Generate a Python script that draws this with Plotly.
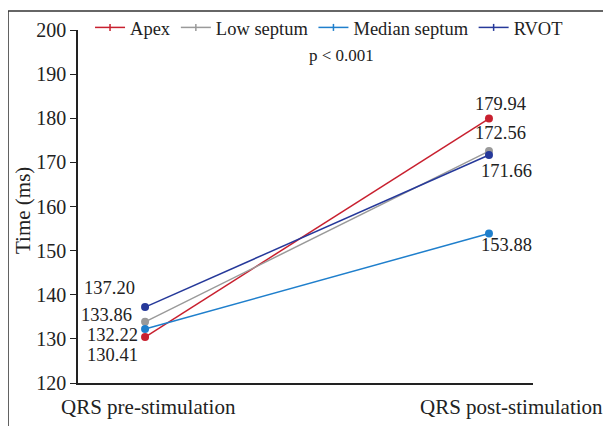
import plotly.graph_objects as go

categories = ["QRS pre-stimulation", "QRS post-stimulation"]
series_names = ["Apex", "Low septum", "Median septum", "RVOT"]
apex = [130.41, 179.94]
low_septum = [133.86, 172.56]
median_septum = [132.22, 153.88]
rvot = [137.20, 171.66]
colors = ["#c8202f", "#9a9a9a", "#1f7fcc", "#26399a"]
y_ticks = [120, 130, 140, 150, 160, 170, 180, 190, 200]

values = [apex, low_septum, median_septum, rvot]
xpos = [0, 1]
FONT = "Liberation Serif"
TXT = "#222"

fig = go.Figure()
for name, vals, col in zip(series_names, values, colors):
    fig.add_trace(go.Scatter(
        x=xpos, y=vals, name=name, mode="lines+markers", showlegend=False,
        line=dict(color=col, width=1.5),
        marker=dict(color=col, size=8),
    ))
# legend entries (small markers like the reference)
for name, col in zip(series_names, colors):
    fig.add_trace(go.Scatter(
        x=[None], y=[None], name=name, mode="lines+markers",
        line=dict(color=col, width=1.5),
        marker=dict(color=col, size=5, symbol="line-ns-open", line=dict(color=col, width=1.5)),
    ))

# data labels (offsets in px: text centre relative to point)
pre_offsets = {"Apex": (-33, -18), "Low septum": (-39, 7), "Median septum": (-33, -6), "RVOT": (-36, 19)}
post_offsets = {"Apex": (12, 15), "Low septum": (12, 18), "Median septum": (18, -11), "RVOT": (18, -16)}
ann = []
for name, vals in zip(series_names, values):
    dx, dy = pre_offsets[name]
    ann.append(dict(x=0, y=vals[0], text=f"{vals[0]:.2f}", showarrow=False,
                    xshift=dx, yshift=dy, font=dict(family=FONT, size=18.5, color=TXT)))
    dx, dy = post_offsets[name]
    ann.append(dict(x=1, y=vals[1], text=f"{vals[1]:.2f}", showarrow=False,
                    xshift=dx, yshift=dy, font=dict(family=FONT, size=18.5, color=TXT)))

# category labels
ann.append(dict(x=0, y=0, yref="paper", text=categories[0], showarrow=False, xanchor="center",
                yanchor="middle", yshift=-24, xshift=3, font=dict(family=FONT, size=21, color=TXT)))
ann.append(dict(x=1, y=0, yref="paper", text=categories[1], showarrow=False, xanchor="center",
                yanchor="middle", yshift=-24, xshift=23, font=dict(family=FONT, size=21, color=TXT)))
ann.append(dict(x=0.58, y=0.929, xref="paper", yref="paper", text="p < 0.001", showarrow=False,
                xanchor="center", yanchor="middle", font=dict(family=FONT, size=17, color=TXT)))
ann.append(dict(x=-0.121, y=0.49, xref="paper", yref="paper", text="Time (ms)", showarrow=False,
                xanchor="center", yanchor="middle",
                textangle=-90, font=dict(family=FONT, size=21, color=TXT)))

fig.update_layout(
    width=603, height=418,
    margin=dict(l=70, r=78, t=22, b=43, autoexpand=False),
    paper_bgcolor="white", plot_bgcolor="white",
    font=dict(family=FONT, size=18, color=TXT),
    showlegend=True,
    legend=dict(orientation="h", x=1.077, xanchor="right", y=1.006, yanchor="middle",
                font=dict(family=FONT, size=18.5, color=TXT),
                itemwidth=30, tracegroupgap=0, bgcolor="rgba(0,0,0,0)"),
    annotations=ann,
    shapes=[
        dict(type="line", xref="paper", yref="paper", x0=-0.1538, x1=1.2, y0=1.0538, y1=1.0538,
             line=dict(color="#333", width=1.5)),
        dict(type="line", xref="paper", yref="paper", x0=-0.1538, x1=-0.1538, y0=1.0538, y1=-0.2,
             line=dict(color="#333", width=1.5)),
    ],
)
fig.update_xaxes(range=[-0.195, 1.128], showticklabels=False, showgrid=False, zeroline=False,
                 showline=True, linecolor=TXT, linewidth=1.5, ticks="")
fig.update_yaxes(range=[120, 200], tickvals=y_ticks, showgrid=False, zeroline=False,
                 showline=True, linecolor=TXT, linewidth=1.5, ticks="outside", ticklen=6,
                 tickcolor=TXT, tickfont=dict(family=FONT, size=20, color=TXT))

fig.write_html("out.html")
